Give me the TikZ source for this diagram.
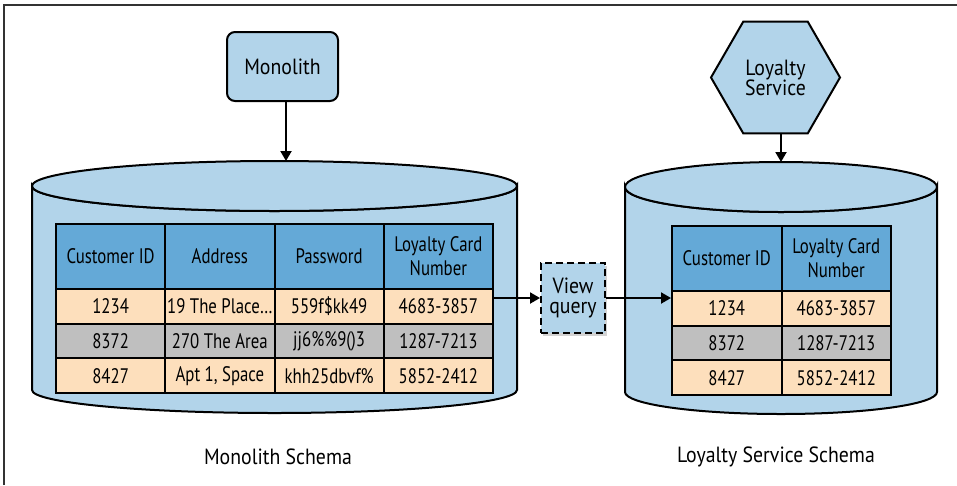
\documentclass[tikz,border=0pt]{standalone}
\usepackage{fontspec}
\setmainfont[FakeStretch=0.8]{PT Sans}
\newfontfamily\labelfont[FakeStretch=0.9]{PT Sans}
\usepackage{tikz}
\usetikzlibrary{positioning,arrows.meta,shapes.geometric,shadows}

\definecolor{dbblue}{HTML}{B2D4EA}
\definecolor{hdblue}{HTML}{64A9D7}
\definecolor{rowpeach}{HTML}{FDDFBC}
\definecolor{rowgray}{HTML}{BFBFBF}
\definecolor{inkgray}{HTML}{333333}

\begin{document}
\begin{tikzpicture}[
  x=1pt, y=-1pt,
  font=\fontsize{21}{23}\selectfont, >={Triangle[length=10pt,width=11pt]},
  lbl/.style={font=\labelfont\fontsize{22}{22}\selectfont},
  db/.style={draw, line width=2pt, fill=dbblue},
  svc/.style={draw, line width=2pt, fill=dbblue, rounded corners=8pt, align=center,
              minimum width=111pt, minimum height=69pt, lbl},
  hexsvc/.style={draw, line width=2pt, fill=dbblue, regular polygon, regular polygon sides=6,
                 minimum size=129pt, inner sep=0pt, align=center, lbl},
  hd/.style={draw, line width=2pt, fill=hdblue, align=center, inner sep=0pt,
             minimum height=65pt, font=\fontsize{21}{24}\selectfont},
  cell/.style={draw, line width=2pt, inner sep=0pt, minimum height=34.67pt},
  viewbox/.style={draw, line width=2pt, dashed, dash pattern=on 7pt off 4pt, fill=dbblue,
                  align=center, minimum width=64pt, minimum height=70pt, inner sep=0pt, lbl,
                  drop shadow={shadow xshift=2pt, shadow yshift=-3pt, opacity=0.35}},
  arr/.style={->, line width=2pt},
]
\useasboundingbox (0,0) rectangle (957,485);
\draw[inkgray, line width=1.5pt] (4,485) -- (4,5) -- (957,5);

% the two databases
\path[db] (32,186) -- (32,390) arc[start angle=180, end angle=0, x radius=242.5, y radius=23]
  -- (517,186) arc[start angle=0, end angle=180, x radius=242.5, y radius=25] -- cycle;
\draw[db] (274.5,186) ellipse[x radius=242.5, y radius=25];
\path[db] (625,187) -- (625,392) arc[start angle=180, end angle=0, x radius=156, y radius=22]
  -- (937,187) arc[start angle=0, end angle=180, x radius=156, y radius=25] -- cycle;
\draw[db] (781,187) ellipse[x radius=156, y radius=25];
\coordinate (ltop) at (286,161);
\coordinate (rtop) at (781,162);

% services
\node[svc] (mono) at (282.5,66.5) {Monolith};
\node[hexsvc] (loy) at (775.5,77.5) {Loyalty\\[-2pt]Service};

% monolith table
\foreach \t [count=\i] in {Customer ID, Address, Password, {Loyalty Card\\Number}}
  \node[hd, minimum width=109.25pt] (mh\i) at ({56+109.25*(\i-0.5)}, 256.5) {\t};
\foreach \fc/\a/\b/\c/\d [count=\j] in {rowpeach/1234/19 The Place…/559f\$kk49/4683-3857,
    rowgray/8372/270 The Area/jj6\%\%9()3/1287-7213,
    rowpeach/8427/{Apt 1, Space}/khh25dbvf\%/5852-2412} {
  \node[cell, minimum width=109.25pt, fill=\fc] (m\j1) at (110.625, {289+34.67*(\j-0.5)}) {\a};
  \node[cell, minimum width=109.25pt, fill=\fc] (m\j2) at (219.875, {289+34.67*(\j-0.5)}) {\b};
  \node[cell, minimum width=109.25pt, fill=\fc] (m\j3) at (329.125, {289+34.67*(\j-0.5)}) {\c};
  \node[cell, minimum width=109.25pt, fill=\fc] (m\j4) at (438.375, {289+34.67*(\j-0.5)}) {\d};
}

% loyalty table
\node[hd, minimum width=109.5pt] (rh1) at (726.75,258.5) {Customer ID};
\node[hd, minimum width=109.5pt] (rh2) at (836.25,258.5) {Loyalty Card\\Number};
\foreach \fc/\a/\d [count=\j] in {rowpeach/1234/4683-3857, rowgray/8372/1287-7213,
    rowpeach/8427/5852-2412} {
  \node[cell, minimum width=109.5pt, fill=\fc] (r\j1) at (726.75, {291+34.67*(\j-0.5)}) {\a};
  \node[cell, minimum width=109.5pt, fill=\fc] (r\j2) at (836.25, {291+34.67*(\j-0.5)}) {\d};
}

\node[viewbox] (view) at (573,298) {View\\[-2pt]query};

\node[lbl] (mlabel) at (278,457) {Monolith Schema};
\node[lbl] (rlabel) at (776,457) {Loyalty Service Schema};

\draw[arr] (mono.south -| ltop) -- (ltop);
\draw[arr] (loy.south -| rtop) -- (rtop);
\draw[arr] (m14.east |- view.west) -- (view.west);
\draw[arr] (view.east) -- (view.east -| r11.west);
\end{tikzpicture}
\end{document}
